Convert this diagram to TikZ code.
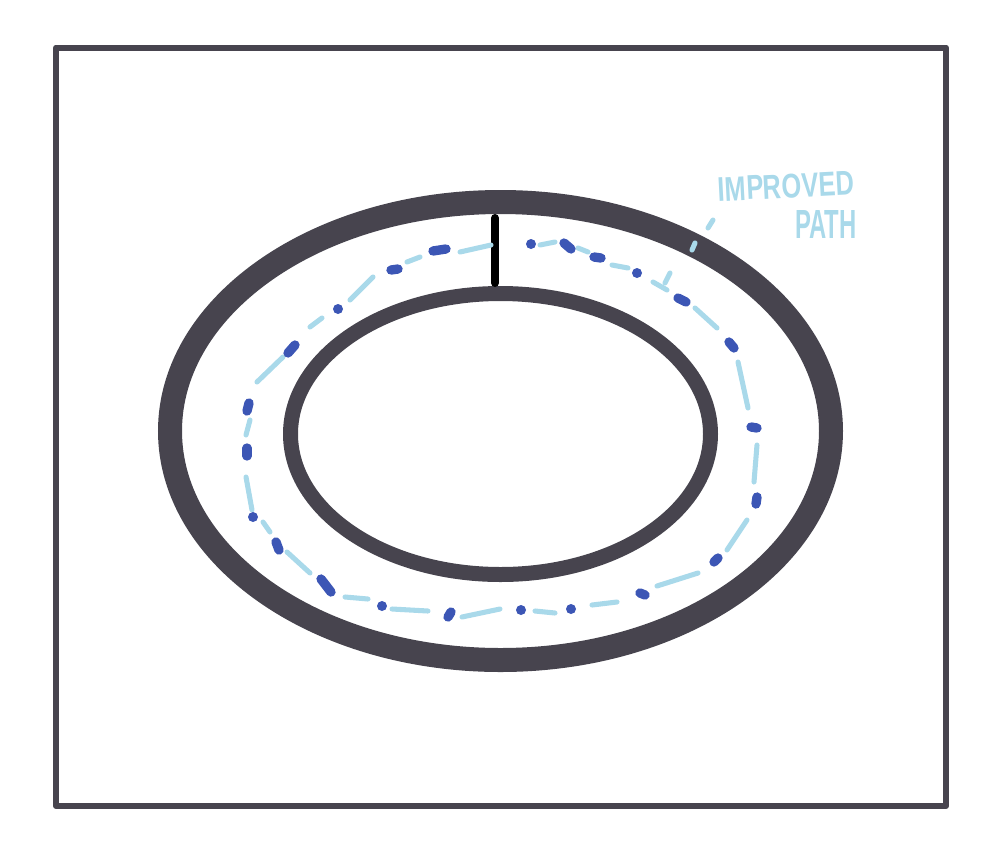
\documentclass[tikz,border=0pt]{standalone}
\usepackage{fontspec}
\setmainfont{Liberation Sans}
\definecolor{ringgray}{HTML}{47444E}
\definecolor{lightpath}{HTML}{A9D9EA}
\definecolor{darkpath}{HTML}{3C56B5}
\tikzset{
  frame/.style={draw=ringgray, line width=4.5pt, line join=round},
  outerring/.style={draw=ringgray, line width=18pt},
  innerring/.style={draw=ringgray, line width=11.25pt},
  barrier/.style={draw=black, line width=6pt, line cap=round},
  ldash/.style={draw=lightpath, line width=3.8pt, line cap=round},
  dblob/.style={draw=darkpath, line width=7pt, line cap=round},
  ddot/.style={fill=darkpath, circle, inner sep=0pt, minimum size=7.5pt},
  lbl/.style={text=lightpath, inner sep=0pt, font=\bfseries}
}
\begin{document}
\begin{tikzpicture}[x=0.75pt,y=-0.75pt]
\useasboundingbox (0,0) rectangle (1000,851);
% frame
\draw[frame] (56,47.5) rectangle (946,806);
% rings
\draw[outerring] (500.5,431) ellipse [x radius=330.5, y radius=229];
\draw[innerring] (500.5,434) ellipse [x radius=210, y radius=140.5];
% barrier
\draw[barrier] (495,218) -- (495,283);
% light dashes of the path
\foreach \a/\b in {
  {(491,245)}/{(460,252)},
  {(420,257)}/{(407,262)},
  {(373,277)}/{(350,300)},
  {(322,318)}/{(310,327)},
  {(283,357)}/{(257,382)},
  {(250,420)}/{(246,435)},
  {(246,477)}/{(252,510)},
  {(263,522)}/{(270,532)},
  {(287,552)}/{(310,573)},
  {(345,597)}/{(368,599)},
  {(392,609)}/{(428,611)},
  {(462,617)}/{(500,609)},
  {(535,611)}/{(555,613)},
  {(592,605)}/{(617,602)},
  {(657,586)}/{(698,573)},
  {(727,550)}/{(747,520)},
  {(754,482)}/{(757,445)},
  {(748,408)}/{(738,362)},
  {(717,328)}/{(695,308)},
  {(667,290)}/{(653,282)},
  {(670,273)}/{(665,283)},
  {(628,268)}/{(612,265)},
  {(588,252)}/{(578,248)},
  {(555,242)}/{(540,245)},
  {(713,220)}/{(708,228)},
  {(695,243)}/{(692,250)}}
  \draw[ldash] \a -- \b;
% dark blobs of the path
\foreach \a/\b in {
  {(433,251)}/{(446,249)},
  {(391,270)}/{(398,269)},
  {(288,353)}/{(295,345)},
  {(249,403)}/{(247,411)},
  {(247,448)}/{(247,456)},
  {(276,542)}/{(279,550)},
  {(321,579)}/{(331,592)},
  {(448,617)}/{(451,612)},
  {(640,593)}/{(645,595)},
  {(714,562)}/{(718,558)},
  {(757,497)}/{(756,504)},
  {(751,427)}/{(757,428)},
  {(729,342)}/{(734,348)},
  {(678,298)}/{(686,302)},
  {(594,257)}/{(601,258)},
  {(564,243)}/{(571,249)}}
  \draw[dblob] \a -- \b;
\foreach \p [count=\i] in {(338,309),(253,517),(382,606),(521,610),(571,609),(637,273),(531,244)}
  \node[ddot] (dot\i) at \p {};
% label
\node[lbl, rotate=3] (lab1) at (786,186) {\resizebox{102pt}{18pt}{IMPROVED}};
\node[lbl] (lab2) at (826,224) {\resizebox{46pt}{21pt}{PATH}};
\end{tikzpicture}
\end{document}
